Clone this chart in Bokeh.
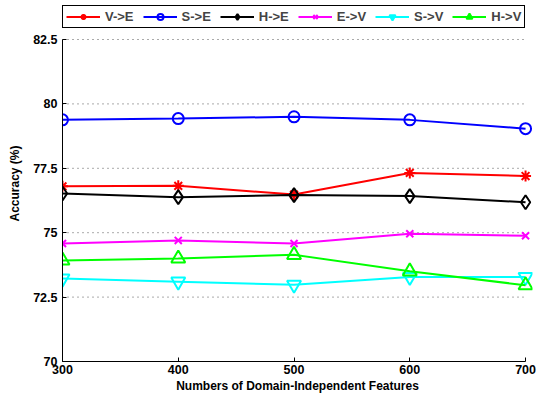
from bokeh.plotting import figure
from bokeh.models import Range1d, FixedTicker, Legend, LegendItem
from bokeh.embed import file_html
from bokeh.resources import INLINE

features = [300, 400, 500, 600, 700]
v_to_e = [76.8, 76.82, 76.48, 77.32, 77.2]
s_to_e = [79.38, 79.43, 79.5, 79.38, 79.04]
h_to_e = [76.52, 76.38, 76.46, 76.42, 76.18]
e_to_v = [74.58, 74.7, 74.58, 74.96, 74.88]
s_to_v = [73.22, 73.1, 72.98, 73.28, 73.28]
h_to_v = [73.92, 74.0, 74.14, 73.5, 72.96]

series_names = ["V->E", "S->E", "H->E", "E->V", "S->V", "H->V"]
series_values = [v_to_e, s_to_e, h_to_e, e_to_v, s_to_v, h_to_v]
series_colors = ["#FF0000", "#0000FF", "#000000", "#FF00FF", "#00FFFF", "#00FF00"]
series_markers = ["asterisk", "circle", "diamond", "x", "inverted_triangle", "triangle"]
marker_sizes = [11, 11, 14, 10, 14, 14]

y_ticks = [70, 72.5, 75, 77.5, 80, 82.5]
y_tick_labels = ["70", "72.5", "75", "77.5", "80", "82.5"]
x_ticks = [300, 400, 500, 600, 700]

FONT = "Liberation Sans"
X_MIN, X_MAX = min(x_ticks), max(x_ticks)
Y_MIN, Y_MAX = min(y_ticks), max(y_ticks)

p = figure(width=537, height=400, output_backend="svg", toolbar_location=None,
           x_range=Range1d(X_MIN, X_MAX + 6), y_range=Range1d(Y_MIN, Y_MAX + 1.32),
           min_border_left=62, min_border_right=5, min_border_top=5, min_border_bottom=39)
p.outline_line_color = None
p.background_fill_color = "white"
p.xgrid.grid_line_color = None
p.ygrid.grid_line_color = None

# dotted horizontal grid lines at the y ticks, spanning the x axis extent
p.segment(x0=[X_MIN] * len(y_ticks), x1=[X_MAX] * len(y_ticks), y0=y_ticks, y1=y_ticks,
          line_color="#555555", line_dash="1 4", line_width=1)

items = []
for name, vals, col, mk, ms in zip(series_names, series_values, series_colors, series_markers, marker_sizes):
    r1 = p.line(features, vals, line_color=col, line_width=2)
    r2 = p.scatter(features, vals, marker=mk, size=ms, line_color=col, fill_color=None, line_width=2)
    items.append(LegendItem(label=name, renderers=[r1, r2]))

legend = Legend(items=items, orientation="horizontal", location=(0, 333),
                glyph_width=34, glyph_height=15, label_standoff=5, spacing=9,
                padding=3, margin=0, border_line_color="black", border_line_width=1.5,
                border_line_alpha=1.0,
                label_text_font=FONT, label_text_font_style="bold", label_text_font_size="13px",
                background_fill_color="white", background_fill_alpha=1.0)
p.add_layout(legend)

p.xaxis.ticker = FixedTicker(ticks=x_ticks)
p.yaxis.ticker = FixedTicker(ticks=y_ticks)
p.yaxis.major_label_overrides = {t: l for t, l in zip(y_ticks, y_tick_labels)}
p.xaxis.bounds = (X_MIN, X_MAX)
p.yaxis.bounds = (Y_MIN, Y_MAX)

for ax in (p.xaxis[0], p.yaxis[0]):
    ax.major_tick_in = 4
    ax.major_tick_out = 0
    ax.minor_tick_in = 0
    ax.minor_tick_out = 0
    ax.axis_line_color = "black"
    ax.major_tick_line_color = "black"
    ax.major_label_text_font = FONT
    ax.major_label_text_font_style = "bold"
    ax.major_label_text_font_size = "12.5px"
    ax.major_label_text_color = "black"
    ax.axis_label_text_font = FONT
    ax.axis_label_text_font_style = "bold"
    ax.axis_label_text_font_size = "12px"
    ax.axis_label_text_color = "black"

p.xaxis.axis_label = "Numbers of Domain-Independent Features"
p.yaxis.axis_label = "Accuracy (%)"
p.xaxis.major_label_standoff = 3
p.xaxis.axis_label_standoff = 2
p.yaxis.major_label_standoff = 5
p.yaxis.axis_label_standoff = 8

open("out.html", "w").write(file_html(p, INLINE))
